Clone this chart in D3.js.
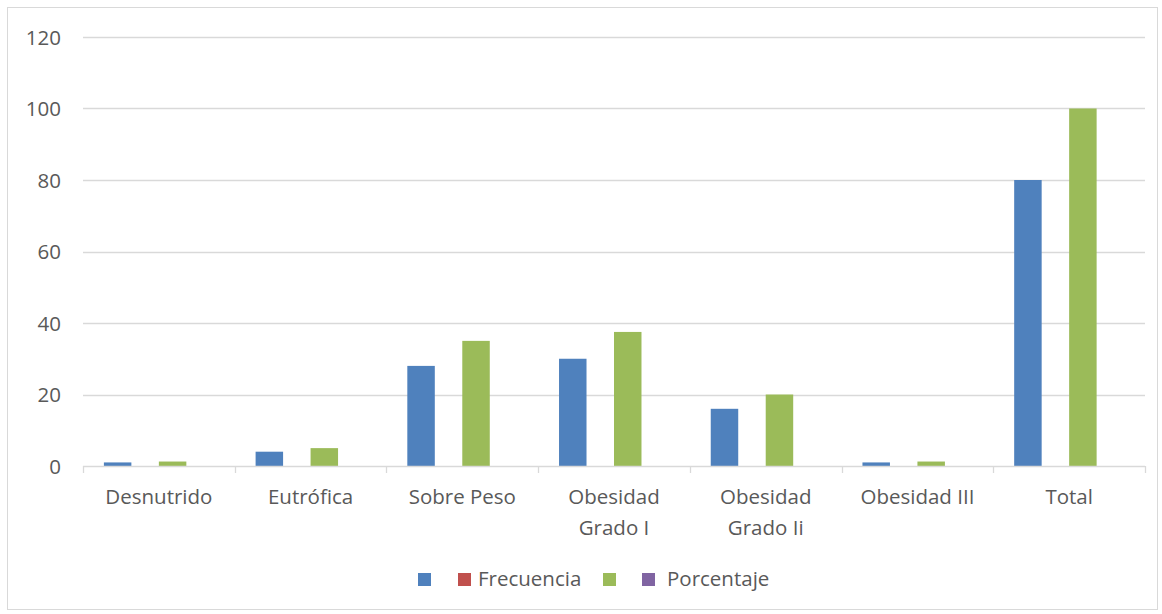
<!DOCTYPE html>
<html>
<head>
<meta charset="utf-8">
<script src="https://cdn.jsdelivr.net/npm/d3@7"></script>
<style>
  html, body { margin: 0; padding: 0; background: #fff; }
  svg { display: block; font-family: "Open Sans", "Liberation Sans", Arial, sans-serif; }
</style>
</head>
<body>
<svg id="chart" width="1162" height="614"></svg>
<script>
// Categories (label lines) and series
const categories = [
  ["Desnutrido"],
  ["Eutrófica"],
  ["Sobre Peso"],
  ["Obesidad", "Grado I"],
  ["Obesidad", "Grado Ii"],
  ["Obesidad III"],
  ["Total"]
];
const seriesNames = ["", "Frecuencia", "", "Porcentaje"];
const seriesColors = ["#4f81bd", "#c0504d", "#9bbb59", "#8064a2"];
const seriesA = [1, 4, 28, 30, 16, 1, 80];
const seriesB = [0, 0, 0, 0, 0, 0, 0];
const seriesC = [1.25, 5, 35, 37.5, 20, 1.25, 100];
const seriesD = [0, 0, 0, 0, 0, 0, 0];
const yTicks = [0, 20, 40, 60, 80, 100, 120];

const allSeries = [seriesA, seriesB, seriesC, seriesD];

const FONT = "'Open Sans', 'Liberation Sans', Arial, sans-serif";
const FS = "20.5px";
const TXT = "#595959";

const svg = d3.select("#chart");
const W = 1162, H = 614;
const plot = { left: 83, right: 1145, top: 37, bottom: 466 };

// Chart border
svg.append("rect")
  .attr("x", 7.5).attr("y", 7.5)
  .attr("width", W - 12).attr("height", H - 12)
  .attr("fill", "#fff").attr("stroke", "#d9d9d9").attr("stroke-width", 1);

const catIdx = categories.map((_, i) => i);
const x0 = d3.scaleBand().domain(catIdx).range([plot.left, plot.right]).paddingInner(0).paddingOuter(0);
const y = d3.scaleLinear().domain([0, 120]).range([plot.bottom, plot.top]);

// Clustered layout: gap of ~150% of a bar width
const gap = 1.52;
const bw = x0.bandwidth() / (allSeries.length + gap);
const x1 = d3.scaleBand().domain(d3.range(allSeries.length))
  .range([bw * gap / 2, bw * gap / 2 + bw * allSeries.length]).padding(0);

// Gridlines
svg.append("g")
  .selectAll("line")
  .data(yTicks.filter(t => t > 0))
  .join("line")
  .attr("x1", plot.left).attr("x2", plot.right)
  .attr("y1", d => Math.round(y(d)) + 0.5).attr("y2", d => Math.round(y(d)) + 0.5)
  .attr("stroke", "#d9d9d9").attr("stroke-width", 1.3);

// Y axis labels
const yAxis = d3.axisLeft(y).tickValues(yTicks).tickSize(0).tickPadding(0);
const yg = svg.append("g").attr("transform", `translate(${plot.left - 22},0)`).call(yAxis);
yg.select(".domain").remove();
yg.selectAll("text")
  .attr("fill", TXT).style("font-size", FS).style("font-family", FONT)
  .attr("dy", "0.35em");

// Bars
const groups = svg.append("g")
  .selectAll("g")
  .data(catIdx)
  .join("g")
  .attr("transform", i => `translate(${x0(i)},0)`);

groups.selectAll("rect")
  .data(i => allSeries.map((s, k) => ({ k, v: s[i] })))
  .join("rect")
  .attr("x", d => x1(d.k))
  .attr("width", x1.bandwidth())
  .attr("y", d => y(d.v))
  .attr("height", d => y(0) - y(d.v))
  .attr("fill", d => seriesColors[d.k]);

// X axis with boundary ticks
const xAxisG = svg.append("g");
xAxisG.append("line")
  .attr("x1", plot.left).attr("x2", plot.right)
  .attr("y1", plot.bottom + 0.5).attr("y2", plot.bottom + 0.5)
  .attr("stroke", "#d9d9d9").attr("stroke-width", 1.3);
const bounds = catIdx.map(i => x0(i)).concat([x0(catIdx.length - 1) + x0.bandwidth()]);
xAxisG.selectAll("line.tk")
  .data(bounds)
  .join("line")
  .attr("class", "tk")
  .attr("x1", d => Math.round(d) + 0.5).attr("x2", d => Math.round(d) + 0.5)
  .attr("y1", plot.bottom).attr("y2", plot.bottom + 7)
  .attr("stroke", "#d9d9d9").attr("stroke-width", 1.3);

const labels = xAxisG.selectAll("text.cat")
  .data(catIdx)
  .join("text")
  .attr("class", "cat")
  .attr("x", i => x0(i) + x0.bandwidth() / 2)
  .attr("y", 504)
  .attr("text-anchor", "middle")
  .attr("fill", TXT)
  .style("font-size", FS);
labels.selectAll("tspan")
  .data(i => categories[i])
  .join("tspan")
  .attr("x", function () { return d3.select(this.parentNode).attr("x"); })
  .attr("dy", (d, j) => j === 0 ? 0 : 31)
  .text(d => d);

// Legend
const legendItems = [
  { k: 0, x: 418, tx: 0 }, { k: 1, x: 458, tx: 20 }, { k: 2, x: 603, tx: 0 }, { k: 3, x: 642, tx: 25 }
];
const lg = svg.append("g");
lg.selectAll("rect")
  .data(legendItems)
  .join("rect")
  .attr("x", d => d.x).attr("y", 573)
  .attr("width", 13).attr("height", 13)
  .attr("fill", d => seriesColors[d.k]);
lg.selectAll("text")
  .data(legendItems.filter(d => seriesNames[d.k] !== ""))
  .join("text")
  .attr("x", d => d.x + d.tx).attr("y", 586)
  .attr("fill", TXT)
  .style("font-size", FS)
  .text(d => seriesNames[d.k]);
</script>
</body>
</html>
